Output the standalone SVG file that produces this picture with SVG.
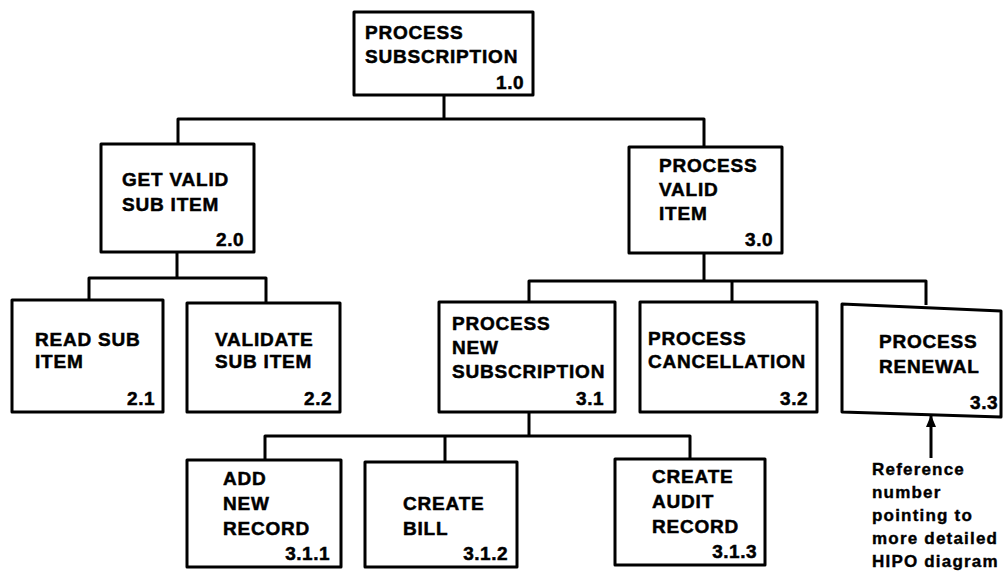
<svg xmlns="http://www.w3.org/2000/svg" width="1003" height="574" viewBox="0 0 1003 574">
<defs>
<style>
.box{fill:#fff;stroke:#000;stroke-width:3;stroke-linejoin:round}
.t{font-family:"Liberation Sans",Arial,sans-serif;font-weight:bold;font-size:19px;letter-spacing:0.8px;fill:#000;stroke:#000;stroke-width:0.5px}
.n{text-anchor:end;letter-spacing:0.5px}
.c{fill:none;stroke:#000;stroke-width:3;stroke-linejoin:round}
.a{font-family:"Liberation Sans",Arial,sans-serif;font-weight:bold;font-size:17px;letter-spacing:1.2px;fill:#000;stroke:#000;stroke-width:0.4px}
</style>
<marker id="ah" viewBox="0 0 12 10" refX="11" refY="5" markerWidth="12" markerHeight="10" markerUnits="userSpaceOnUse" orient="auto">
<path d="M0,0 L12,5 L0,10 Z" fill="#000"/>
</marker>
</defs>
<rect width="1003" height="574" fill="#fff"/>
<g id="connectors" class="c">
<path d="M444,95 V119 M178,144 V119 H704 V147"/>
<path d="M177,252 V278 M89,300 V278 H266 V303"/>
<path d="M704,253 V281 M529,302 V281 H926 V305 M732,281 V302"/>
<path d="M529,412 V436 M265,460 V436 H690 V459 M445,436 V462"/>
</g>
<g id="n1_0">
<rect class="box" x="354" y="12" width="179" height="83"/>
<text class="t" x="365" y="39">PROCESS</text>
<text class="t" x="365" y="63">SUBSCRIPTION</text>
<text class="t n" x="524" y="89">1.0</text>
</g>
<g id="n2_0">
<rect class="box" x="101" y="144" width="153" height="108"/>
<text class="t" x="122" y="186">GET VALID</text>
<text class="t" x="122" y="211">SUB ITEM</text>
<text class="t n" x="244" y="246">2.0</text>
</g>
<g id="n3_0">
<rect class="box" x="629" y="147" width="153" height="106"/>
<text class="t" x="659" y="172">PROCESS</text>
<text class="t" x="659" y="196">VALID</text>
<text class="t" x="659" y="220">ITEM</text>
<text class="t n" x="773" y="246">3.0</text>
</g>
<g id="n2_1">
<rect class="box" x="12" y="300" width="151" height="112"/>
<text class="t" x="35" y="346">READ SUB</text>
<text class="t" x="35" y="368">ITEM</text>
<text class="t n" x="155" y="405">2.1</text>
</g>
<g id="n2_2">
<rect class="box" x="187" y="303" width="153" height="109"/>
<text class="t" x="215" y="346">VALIDATE</text>
<text class="t" x="215" y="368">SUB ITEM</text>
<text class="t n" x="332" y="405">2.2</text>
</g>
<g id="n3_1">
<rect class="box" x="439" y="302" width="176" height="110"/>
<text class="t" x="452" y="330">PROCESS</text>
<text class="t" x="452" y="354">NEW</text>
<text class="t" x="452" y="378">SUBSCRIPTION</text>
<text class="t n" x="604" y="405">3.1</text>
</g>
<g id="n3_2">
<rect class="box" x="640" y="302" width="177" height="110"/>
<text class="t" x="648" y="345">PROCESS</text>
<text class="t" x="648" y="368">CANCELLATION</text>
<text class="t n" x="808" y="405">3.2</text>
</g>
<g id="n3_3">
<path class="box" d="M842,304 L1001,311 L1001,417 L842,412 Z"/>
<text class="t" x="879" y="348">PROCESS</text>
<text class="t" x="879" y="373">RENEWAL</text>
<text class="t n" x="998" y="409">3.3</text>
</g>
<g id="n3_1_1">
<rect class="box" x="187" y="460" width="154" height="107"/>
<text class="t" x="223" y="485">ADD</text>
<text class="t" x="223" y="510">NEW</text>
<text class="t" x="223" y="535">RECORD</text>
<text class="t n" x="330" y="560">3.1.1</text>
</g>
<g id="n3_1_2">
<rect class="box" x="365" y="462" width="152" height="105"/>
<text class="t" x="403" y="510">CREATE</text>
<text class="t" x="403" y="535">BILL</text>
<text class="t n" x="508" y="560">3.1.2</text>
</g>
<g id="n3_1_3">
<rect class="box" x="615" y="459" width="150" height="106"/>
<text class="t" x="652" y="483">CREATE</text>
<text class="t" x="652" y="508">AUDIT</text>
<text class="t" x="652" y="533">RECORD</text>
<text class="t n" x="757" y="558">3.1.3</text>
</g>
<g id="annotation">
<line x1="931" y1="458" x2="931" y2="416" stroke="#000" stroke-width="3" marker-end="url(#ah)"/>
<text class="a" x="872" y="475">Reference</text>
<text class="a" x="872" y="498">number</text>
<text class="a" x="872" y="521">pointing to</text>
<text class="a" x="872" y="544">more detailed</text>
<text class="a" x="872" y="567">HIPO diagram</text>
</g>
</svg>
